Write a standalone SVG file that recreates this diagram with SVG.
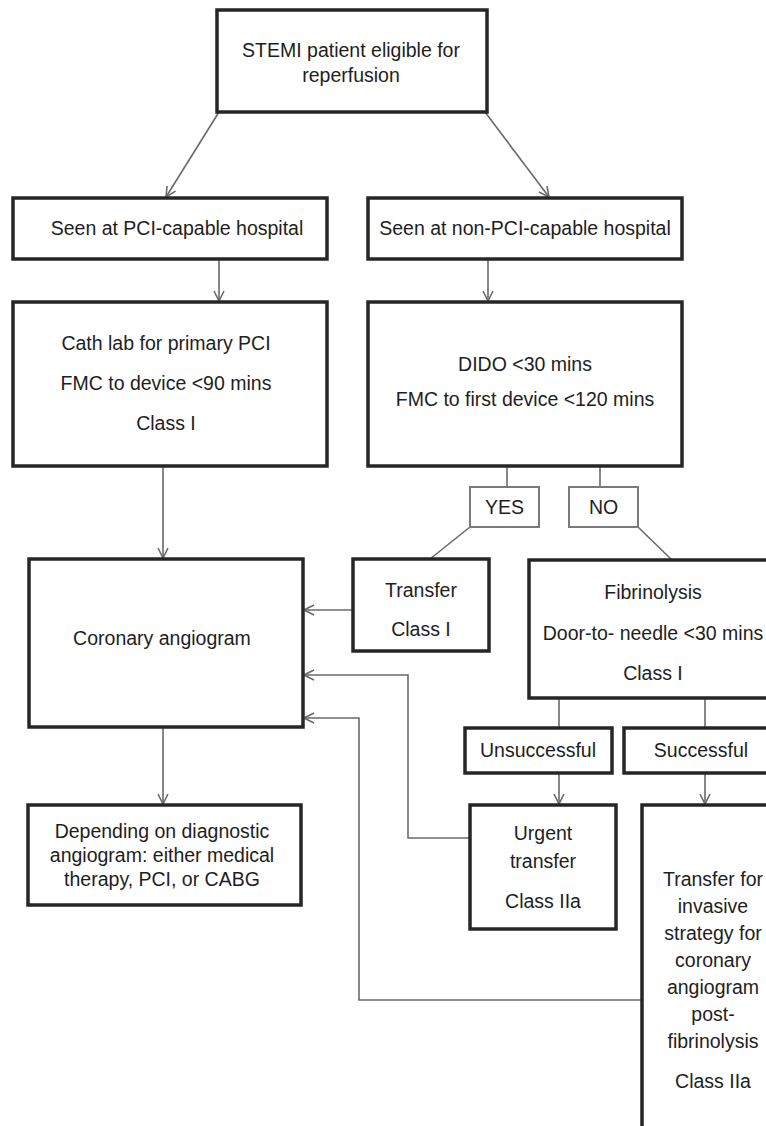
<svg xmlns="http://www.w3.org/2000/svg" width="766" height="1126" viewBox="0 0 766 1126">
  <style>
    .box { fill: #ffffff; stroke: #262626; stroke-width: 3.5; }
    .tag { fill: #ffffff; stroke: #7a7a7a; stroke-width: 2; }
    .lbl { font-family: "Liberation Sans", Arial, sans-serif; font-size: 19.5px; fill: #1e1e1e; text-anchor: middle; }
    .wire { fill: none; stroke: #6a6a6a; stroke-width: 1.6; }
    .arr { marker-end: url(#open); }
  </style>
  <defs>
    <marker id="open" viewBox="0 0 12 12" refX="11" refY="6" markerWidth="12" markerHeight="12" markerUnits="userSpaceOnUse" orient="auto">
      <path d="M1,1 L11,6 L1,11" fill="none" stroke="#6a6a6a" stroke-width="1.6"/>
    </marker>
  </defs>
  <rect width="766" height="1126" fill="#ffffff"/>

  <!-- connectors -->
  <g id="connectors">
    <line class="wire arr" x1="219" y1="112" x2="166" y2="197"/>
    <line class="wire arr" x1="485" y1="112" x2="549" y2="197"/>
    <line class="wire arr" x1="219" y1="259" x2="219" y2="301"/>
    <line class="wire arr" x1="488" y1="259" x2="488" y2="301"/>
    <line class="wire arr" x1="163" y1="466" x2="163" y2="558"/>
    <line class="wire" x1="507" y1="466" x2="507" y2="487"/>
    <line class="wire" x1="600" y1="466" x2="600" y2="487"/>
    <line class="wire" x1="470" y1="527" x2="430" y2="559"/>
    <line class="wire" x1="638" y1="527" x2="672" y2="560"/>
    <line class="wire arr" x1="353" y1="610" x2="304" y2="610"/>
    <line class="wire" x1="559" y1="698" x2="559" y2="728"/>
    <line class="wire" x1="705" y1="698" x2="705" y2="728"/>
    <line class="wire arr" x1="559" y1="773" x2="559" y2="804"/>
    <line class="wire arr" x1="705" y1="773" x2="705" y2="804"/>
    <line class="wire arr" x1="163" y1="727" x2="163" y2="804"/>
    <polyline class="wire arr" points="470,838 408,838 408,675 304,675"/>
    <polyline class="wire arr" points="642,1000 359,1000 359,718 304,718"/>
  </g>

  <g id="start">
    <rect class="box" x="217" y="10" width="270" height="102"/>
    <text class="lbl" x="351" y="57">STEMI patient eligible for</text>
    <text class="lbl" x="351" y="82">reperfusion</text>
  </g>

  <g id="pci-hospital">
    <rect class="box" x="13" y="198" width="314" height="61"/>
    <text class="lbl" x="177" y="235">Seen at PCI-capable hospital</text>
  </g>

  <g id="non-pci-hospital">
    <rect class="box" x="368" y="198" width="314" height="61"/>
    <text class="lbl" x="525" y="235">Seen at non-PCI-capable hospital</text>
  </g>

  <g id="cath-lab">
    <rect class="box" x="13" y="302" width="314" height="164"/>
    <text class="lbl" x="166" y="350">Cath lab for primary PCI</text>
    <text class="lbl" x="166" y="390">FMC to device &lt;90 mins</text>
    <text class="lbl" x="166" y="430">Class I</text>
  </g>

  <g id="dido">
    <rect class="box" x="368" y="302" width="314" height="164"/>
    <text class="lbl" x="525" y="371">DIDO &lt;30 mins</text>
    <text class="lbl" x="525" y="406">FMC to first device &lt;120 mins</text>
  </g>

  <g id="yes">
    <rect class="tag" x="470" y="487" width="69" height="40"/>
    <text class="lbl" x="504.5" y="514">YES</text>
  </g>

  <g id="no">
    <rect class="tag" x="569" y="487" width="69" height="40"/>
    <text class="lbl" x="603.5" y="514">NO</text>
  </g>

  <g id="transfer">
    <rect class="box" x="353" y="559" width="136" height="92"/>
    <text class="lbl" x="421" y="597">Transfer</text>
    <text class="lbl" x="421" y="636">Class I</text>
  </g>

  <g id="fibrinolysis">
    <rect class="box" x="529" y="560" width="260" height="138"/>
    <text class="lbl" x="653" y="599">Fibrinolysis</text>
    <text class="lbl" x="653" y="640">Door-to- needle &lt;30 mins</text>
    <text class="lbl" x="653" y="680">Class I</text>
  </g>

  <g id="coronary-angiogram">
    <rect class="box" x="29" y="559" width="274" height="168"/>
    <text class="lbl" x="162" y="645">Coronary angiogram</text>
  </g>

  <g id="unsuccessful">
    <rect class="box" x="465" y="728" width="147" height="45"/>
    <text class="lbl" x="538" y="757">Unsuccessful</text>
  </g>

  <g id="successful">
    <rect class="box" x="624" y="728" width="170" height="45"/>
    <text class="lbl" x="701" y="757">Successful</text>
  </g>

  <g id="next-step">
    <rect class="box" x="28" y="805" width="273" height="100"/>
    <text class="lbl" x="162" y="838">Depending on diagnostic</text>
    <text class="lbl" x="162" y="862">angiogram: either medical</text>
    <text class="lbl" x="162" y="886">therapy, PCI, or CABG</text>
  </g>

  <g id="urgent-transfer">
    <rect class="box" x="470" y="805" width="146" height="124"/>
    <text class="lbl" x="543" y="840">Urgent</text>
    <text class="lbl" x="543" y="868">transfer</text>
    <text class="lbl" x="543" y="908">Class IIa</text>
  </g>

  <g id="invasive-strategy">
    <rect class="box" x="642" y="805" width="150" height="340"/>
    <text class="lbl" x="713" y="886">Transfer for</text>
    <text class="lbl" x="713" y="913">invasive</text>
    <text class="lbl" x="713" y="940">strategy for</text>
    <text class="lbl" x="713" y="967">coronary</text>
    <text class="lbl" x="713" y="994">angiogram</text>
    <text class="lbl" x="713" y="1021">post-</text>
    <text class="lbl" x="713" y="1048">fibrinolysis</text>
    <text class="lbl" x="713" y="1088">Class IIa</text>
  </g>
</svg>
